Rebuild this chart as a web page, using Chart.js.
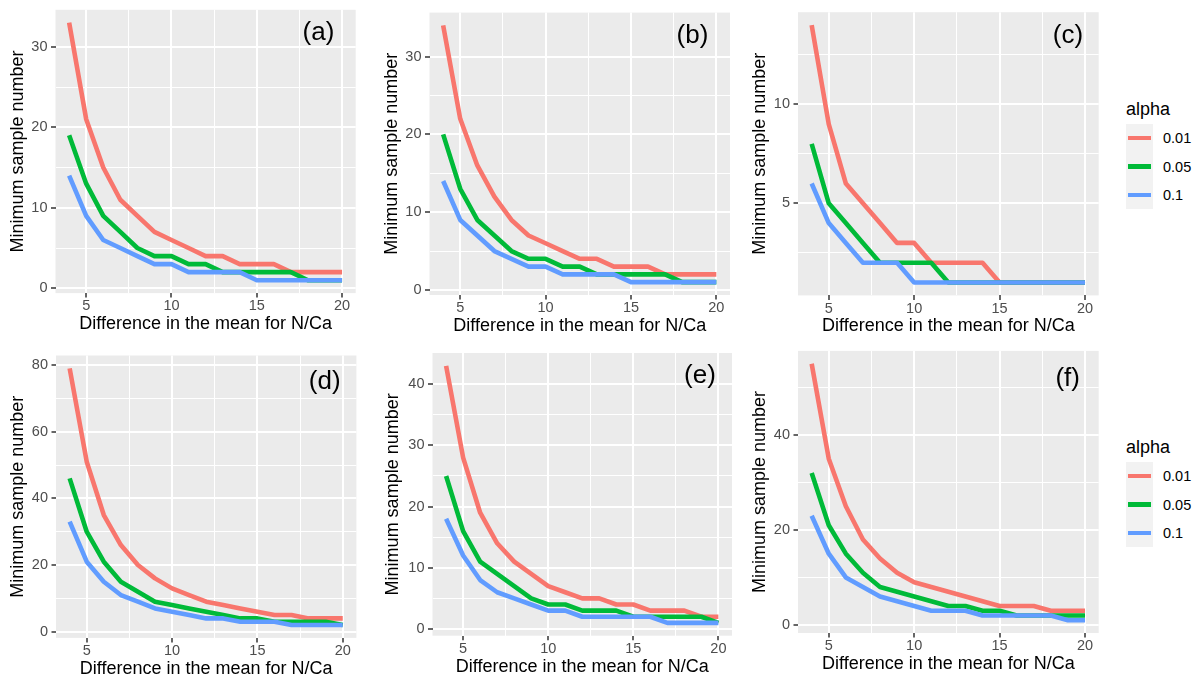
<!DOCTYPE html>
<html>
<head>
<meta charset="utf-8">
<script src="https://cdn.jsdelivr.net/npm/chart.js@4.4.1/dist/chart.umd.min.js"></script>
<style>
  html, body { margin:0; padding:0; background:#ffffff; width:1199px; height:679px; overflow:hidden;
    font-family:'Liberation Sans', Arial, sans-serif; }
  canvas.panel { position:absolute; }
  .lg { position:absolute; color:#000; white-space:nowrap; }
</style>
</head>
<body>
<script>
// ---------------- data ----------------
const diffs = [4,5,6,7,8,9,10,11,12,13,14,15,16,17,18,19,20];
const xMajorTicks = [5,10,15,20];
const xMinorTicks = [7.5,12.5,17.5];
const seriesNames = ['0.01','0.05','0.1'];
const panelLetters = ['(a)','(b)','(c)','(d)','(e)','(f)'];

const a01 = [33,21,15,11,9,7,6,5,4,4,3,3,3,2,2,2,2];
const a05 = [19,13,9,7,5,4,4,3,3,2,2,2,2,2,1,1,1];
const a10 = [14,9,6,5,4,3,3,2,2,2,2,1,1,1,1,1,1];

const b01 = [34,22,16,12,9,7,6,5,4,4,3,3,3,2,2,2,2];
const b05 = [20,13,9,7,5,4,4,3,3,2,2,2,2,2,1,1,1];
const b10 = [14,9,7,5,4,3,3,2,2,2,2,1,1,1,1,1,1];

const c01 = [14,9,6,5,4,3,3,2,2,2,2,1,1,1,1,1,1];
const c05 = [8,5,4,3,2,2,2,2,1,1,1,1,1,1,1,1,1];
const c10 = [6,4,3,2,2,2,1,1,1,1,1,1,1,1,1,1,1];

const d01 = [79,51,35,26,20,16,13,11,9,8,7,6,5,5,4,4,4];
const d05 = [46,30,21,15,12,9,8,7,6,5,4,4,3,3,3,3,2];
const d10 = [33,21,15,11,9,7,6,5,4,4,3,3,3,2,2,2,2];

const e01 = [43,28,19,14,11,9,7,6,5,5,4,4,3,3,3,2,2];
const e05 = [25,16,11,9,7,5,4,4,3,3,3,2,2,2,2,2,1];
const e10 = [18,12,8,6,5,4,3,3,2,2,2,2,2,1,1,1,1];

const f01 = [55,35,25,18,14,11,9,8,7,6,5,4,4,4,3,3,3];
const f05 = [32,21,15,11,8,7,6,5,4,4,3,3,2,2,2,2,2];
const f10 = [23,15,10,8,6,5,4,3,3,3,2,2,2,2,2,1,1];

const yMajorA = [0,10,20,30],     yMinorA = [5,15,25];
const yMajorB = [0,10,20,30],     yMinorB = [5,15,25];
const yMajorC = [5,10],           yMinorC = [2.5,7.5,12.5];
const yMajorD = [0,20,40,60,80],  yMinorD = [10,30,50,70];
const yMajorE = [0,10,20,30,40],  yMinorE = [5,15,25,35];
const yMajorF = [0,20,40],        yMinorF = [10,30,50];

// ---------------- styling / layout ----------------
const seriesColors = ['#F8766D','#00BA38','#619CFF'];
const FONT = "'Liberation Sans', Arial, sans-serif";
Chart.defaults.font.family = FONT;

// panel rectangles (page pixels) and text anchors
const layoutCfg = [
  {L:55.5,  T:9.8,   R:355.7,  B:293.1, ytx:18.5, lx:318.5,  ly:35},
  {L:429.5, T:12.6,  R:730.0,  B:295.0, ytx:392,  lx:692.5,  ly:37.5},
  {L:798.0, T:12.2,  R:1098.7, B:295.4, ytx:760,  lx:1068,   ly:37.5},
  {L:56.0,  T:355.5, R:356.4,  B:637.9, ytx:18.5, lx:324.7,  ly:384},
  {L:432.5, T:353.0, R:732.0,  B:635.7, ytx:393,  lx:700,    ly:377.5},
  {L:798.0, T:350.9, R:1098.7, B:633.0, ytx:760,  lx:1067.7, ly:380.5}
];

const bgPlugin = {
  id:'panelBg',
  beforeDraw(chart) {
    const a = chart.chartArea, ctx = chart.ctx;
    ctx.save(); ctx.fillStyle = '#EBEBEB';
    ctx.fillRect(a.left, a.top, a.right - a.left, a.bottom - a.top);
    ctx.restore();
  }
};
const letterPlugin = {
  id:'panelLetter',
  afterDraw(chart, args, opts) {
    const ctx = chart.ctx;
    ctx.save();
    ctx.font = '26px ' + FONT;
    ctx.fillStyle = '#000';
    ctx.textAlign = 'center';
    ctx.textBaseline = 'middle';
    ctx.fillText(opts.text, opts.x, opts.y);
    ctx.restore();
  }
};

function expandRange(values) {
  const mn = Math.min(...values), mx = Math.max(...values);
  const pad = (mx - mn) * 0.05;
  return [mn - pad, mx + pad];
}

function makePanel(i, s01, s05, s10, yMajor, yMinor) {
  const g = layoutCfg[i];
  const TITLE_HALF = 18 * 1.2 / 2;
  const canvasLeft = Math.floor(g.ytx - TITLE_HALF);
  const ytPad = g.ytx - TITLE_HALF - canvasLeft;
  const canvasTop = Math.floor(g.T - 15);
  const padTop = g.T - canvasTop;
  const canvasRight = Math.ceil(g.R + 12);
  const padRight = canvasRight - g.R;
  const canvasBottom = Math.ceil(g.B + 31 + TITLE_HALF);
  const xtPad = canvasBottom - (g.B + 31 + TITLE_HALF);
  const yW = g.L - canvasLeft;
  const xH = canvasBottom - g.B;

  const cv = document.createElement('canvas');
  cv.className = 'panel';
  cv.width = canvasRight - canvasLeft;
  cv.height = canvasBottom - canvasTop;
  cv.style.left = canvasLeft + 'px';
  cv.style.top = canvasTop + 'px';
  cv.style.width = cv.width + 'px';
  cv.style.height = cv.height + 'px';
  document.body.appendChild(cv);

  const [xMin, xMax] = expandRange(diffs);
  const [yMin, yMax] = expandRange([...s01, ...s05, ...s10]);
  const xAll = [...xMajorTicks, ...xMinorTicks].filter(v => v >= xMin && v <= xMax).sort((p,q)=>p-q);
  const yAll = [...yMajor, ...yMinor].filter(v => v >= yMin && v <= yMax).sort((p,q)=>p-q);

  const series = [s01, s05, s10];
  const datasets = series.map((s, k) => ({
    label: seriesNames[k],
    data: diffs.map((x, j) => ({x: x, y: s[j]})),
    borderColor: seriesColors[k],
    backgroundColor: seriesColors[k],
    borderWidth: 4.6,
    pointRadius: 0,
    pointHoverRadius: 0,
    tension: 0,
    fill: false,
    borderJoinStyle: 'round',
    borderCapStyle: 'butt',
    order: 3 - k
  }));

  const isMajorX = v => xMajorTicks.includes(v);
  const isMajorY = v => yMajor.includes(v);

  new Chart(cv, {
    type: 'line',
    data: { datasets },
    plugins: [bgPlugin, letterPlugin],
    options: {
      responsive: false,
      animation: false,
      devicePixelRatio: 1,
      events: [],
      layout: { padding: { left: 0, top: padTop, right: padRight, bottom: 0 } },
      plugins: {
        legend: { display: false },
        tooltip: { enabled: false },
        panelLetter: { text: panelLetters[i], x: g.lx - canvasLeft, y: g.ly - canvasTop - 2 }
      },
      scales: {
        x: {
          type: 'linear', min: xMin, max: xMax,
          afterBuildTicks: s => { s.ticks = xAll.map(v => ({value: v})); },
          afterFit: s => { s.height = xH; },
          border: { display: false },
          grid: {
            color: '#FFFFFF',
            lineWidth: c => (c.tick && isMajorX(c.tick.value)) ? 2 : 1,
            drawTicks: true, tickLength: 4.5, tickWidth: 1.5,
            tickColor: c => (c.tick && isMajorX(c.tick.value)) ? '#333333' : 'rgba(0,0,0,0)'
          },
          ticks: {
            autoSkip: false, maxRotation: 0, minRotation: 0, padding: 0,
            color: '#4D4D4D', font: { size: 14.5 },
            callback: v => isMajorX(v) ? String(v) : ''
          },
          title: {
            display: true, text: 'Difference in the mean for N/Ca', color: '#000',
            font: { size: 18, lineHeight: 1.2 }, padding: { top: 0, bottom: xtPad }
          }
        },
        y: {
          type: 'linear', min: yMin, max: yMax,
          afterBuildTicks: s => { s.ticks = yAll.map(v => ({value: v})); },
          afterFit: s => { s.width = yW; },
          border: { display: false },
          grid: {
            color: '#FFFFFF',
            lineWidth: c => (c.tick && isMajorY(c.tick.value)) ? 2 : 1,
            drawTicks: true, tickLength: 4.5, tickWidth: 1.5,
            tickColor: c => (c.tick && isMajorY(c.tick.value)) ? '#333333' : 'rgba(0,0,0,0)'
          },
          ticks: {
            autoSkip: false, padding: 3.5,
            color: '#4D4D4D', font: { size: 14.5 },
            callback: v => isMajorY(v) ? String(v) : ''
          },
          title: {
            display: true, text: 'Minimum sample number', color: '#000',
            font: { size: 18, lineHeight: 1.2 }, padding: { top: ytPad, bottom: 0 }
          }
        }
      }
    }
  });
}

makePanel(0, a01, a05, a10, yMajorA, yMinorA);
makePanel(1, b01, b05, b10, yMajorB, yMinorB);
makePanel(2, c01, c05, c10, yMajorC, yMinorC);
makePanel(3, d01, d05, d10, yMajorD, yMinorD);
makePanel(4, e01, e05, e10, yMajorE, yMinorE);
makePanel(5, f01, f05, f10, yMajorF, yMinorF);

// ---------------- legends ----------------
function addDiv(style, text) {
  const d = document.createElement('div');
  d.className = 'lg';
  Object.assign(d.style, style);
  if (text !== undefined) d.textContent = text;
  document.body.appendChild(d);
  return d;
}
function makeLegend(keyTop) {
  addDiv({left:'1126px', top:(keyTop - 15 - 12) + 'px', height:'24px', lineHeight:'24px', fontSize:'18px'}, 'alpha');
  addDiv({left:'1126px', top:keyTop + 'px', width:'27px', height:'85px', background:'#F2F2F2'});
  seriesNames.forEach((name, j) => {
    const cy = keyTop + 14.2 + j * 28.4;
    addDiv({left:'1128px', top:(cy - 2.3) + 'px', width:'23px', height:'4.6px', background:seriesColors[j]});
    addDiv({left:'1163px', top:(cy - 10) + 'px', height:'20px', lineHeight:'20px', fontSize:'14.5px'}, name);
  });
}
makeLegend(124);
makeLegend(462);
</script>
</body>
</html>
